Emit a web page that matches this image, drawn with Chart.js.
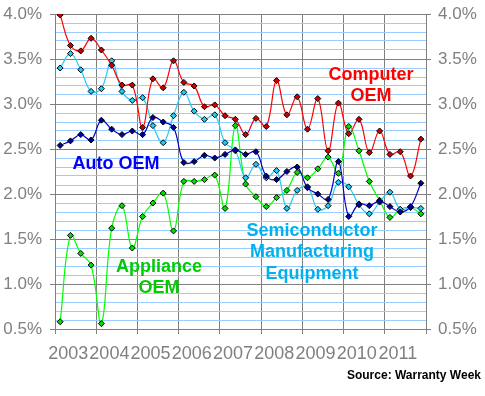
<!DOCTYPE html>
<html>
<head>
<meta charset="utf-8">
<script src="https://cdn.jsdelivr.net/npm/chart.js@4"></script>
<style>
  html, body { margin: 0; padding: 0; background: #fff; }
  #wrap { width: 485px; height: 396px; position: relative; }
</style>
</head>
<body>
<div id="wrap"><canvas id="warrantyChart" width="485" height="396"></canvas></div>
<script>
// claims rate as % of product sales, by quarter 2003-2011
const years = ["2003", "2004", "2005", "2006", "2007", "2008", "2009", "2010", "2011"];
const quarters = [];
years.forEach((y) => { for (let q = 1; q <= 4; q++) quarters.push(y + " Q" + q); });

const computerOEM = [3.99, 3.65, 3.59, 3.73, 3.60, 3.43, 3.21, 3.21, 2.74, 3.28, 3.18, 3.48,
  3.24, 3.20, 2.97, 2.99, 2.87, 2.83, 2.66, 2.84, 2.75, 3.26, 2.88, 3.08,
  2.72, 3.06, 2.48, 3.01, 2.67, 2.83, 2.46, 2.70, 2.44, 2.47, 2.20, 2.61];
const semiconductorEquip = [3.40, 3.56, 3.38, 3.14, 3.17, 3.48, 3.14, 3.04, 3.07, 2.76, 2.57, 2.87,
  3.13, 2.92, 2.83, 2.88, 2.57, 2.48, 2.18, 2.33, 2.18, 2.26, 1.84, 2.04,
  2.08, 1.83, 1.87, 2.13, 2.08, 1.88, 1.78, 1.91, 2.02, 1.83, 1.85, 1.84];
const autoOEM = [2.54, 2.59, 2.66, 2.60, 2.82, 2.72, 2.66, 2.70, 2.66, 2.85, 2.80, 2.74,
  2.35, 2.36, 2.43, 2.40, 2.44, 2.49, 2.44, 2.47, 2.20, 2.16, 2.25, 2.30,
  2.07, 2.00, 1.94, 2.36, 1.75, 1.89, 1.87, 1.92, 1.86, 1.80, 1.86, 2.12];
const applianceOEM = [0.58, 1.54, 1.34, 1.21, 0.56, 1.62, 1.87, 1.40, 1.75, 1.90, 2.01, 1.59,
  2.14, 2.14, 2.16, 2.21, 1.84, 2.76, 2.11, 1.97, 1.86, 1.96, 2.04, 2.24,
  2.18, 2.28, 2.41, 2.23, 2.75, 2.48, 2.14, 1.93, 1.74, 1.83, 1.85, 1.78];

const GRAY = "#808080";
const MINOR = "#99ccff";

const isMajor = (v) => Math.round(v * 10) % 5 === 0;

function series(label, data, line, fill) {
  return {
    label: label,
    data: data,
    borderColor: line,
    borderWidth: 1.2,
    backgroundColor: fill,
    pointStyle: "rectRot",
    pointRadius: 3,
    pointBorderColor: "#000",
    pointBorderWidth: 1,
    pointBackgroundColor: fill,
    tension: 0.4,
    fill: false
  };
}

// text labels next to the lines + source note
const notes = [
  { lines: ["Computer", "OEM"], color: "#ff0000", x: 371, y: 75 },
  { lines: ["Auto OEM"], color: "#0000ff", x: 116, y: 164 },
  { lines: ["Appliance", "OEM"], color: "#00cc00", x: 159, y: 267 },
  { lines: ["Semiconductor", "Manufacturing", "Equipment"], color: "#00b0f0", x: 312, y: 231 }
];

const notesPlugin = {
  id: "notes",
  afterDraw(chart) {
    const c = chart.ctx;
    c.save();
    c.textAlign = "center";
    c.textBaseline = "middle";
    c.font = "bold 18px 'Liberation Sans', Arial, sans-serif";
    notes.forEach((n) => {
      c.fillStyle = n.color;
      n.lines.forEach((t, i) => c.fillText(t, n.x, n.y + i * 21.5));
    });
    c.fillStyle = "#000";
    c.textAlign = "right";
    c.font = "bold 12px 'Liberation Sans', Arial, sans-serif";
    c.fillText("Source: Warranty Week", 481, 376);
    c.restore();
  }
};

const yTicks = {
  stepSize: 0.1,
  autoSkip: false,
  color: GRAY,
  font: { family: "'Liberation Sans', Arial, sans-serif", size: 17 },
  callback: (v) => (isMajor(v) ? v.toFixed(1) + "%" : "")
};

function fitY(width) {
  return (s) => {
    s.width = width;
    s.paddingTop = 0;
    s.paddingBottom = 0;
  };
}

new Chart(document.getElementById("warrantyChart").getContext("2d"), {
  type: "line",
  data: {
    labels: quarters,
    datasets: [
      series("Computer OEM", computerOEM, "#ff0000", "#cc0000"),
      series("Auto OEM", autoOEM, "#0000cc", "#000099"),
      series("Semiconductor Manufacturing Equipment", semiconductorEquip, "#22ccf5", "#22ccf5"),
      series("Appliance OEM", applianceOEM, "#00ff00", "#00dd00")
    ]
  },
  options: {
    responsive: false,
    animation: false,
    devicePixelRatio: 1,
    layout: { padding: { top: 14, left: 0, right: 0, bottom: 0 } },
    plugins: { legend: { display: false }, tooltip: { enabled: false } },
    scales: {
      x: {
        offset: true,
        grid: {
          offset: true,
          color: (c) => (c.index === undefined || c.index % 4 === 0 ? GRAY : "transparent"),
          tickColor: (c) => (c.index === undefined || c.index % 4 === 0 ? GRAY : "transparent"),
          tickLength: 5
        },
        border: { color: GRAY },
        ticks: {
          autoSkip: false,
          maxRotation: 0,
          padding: 9,
          labelOffset: 8,
          color: GRAY,
          font: { family: "'Liberation Sans Narrow', 'Arial Narrow', 'Liberation Sans', sans-serif", size: 18 },
          callback: (v, i) => (i % 4 === 0 ? years[i / 4] : "")
        },
        afterFit: (s) => { s.height = 67; }
      },
      y: {
        position: "left",
        min: 0.5,
        max: 4.0,
        grid: {
          color: (c) => (isMajor(c.tick.value) ? GRAY : MINOR),
          tickColor: (c) => (isMajor(c.tick.value) ? GRAY : "transparent"),
          tickLength: 5
        },
        border: { color: GRAY },
        ticks: Object.assign({ padding: 8 }, yTicks),
        afterFit: fitY(55)
      },
      y2: {
        position: "right",
        min: 0.5,
        max: 4.0,
        grid: {
          drawOnChartArea: false,
          tickColor: (c) => (isMajor(c.tick.value) ? GRAY : "transparent"),
          tickLength: 5
        },
        border: { color: GRAY },
        ticks: Object.assign({ padding: 7 }, yTicks),
        afterFit: fitY(59)
      }
    }
  },
  plugins: [notesPlugin]
});
</script>
</body>
</html>
